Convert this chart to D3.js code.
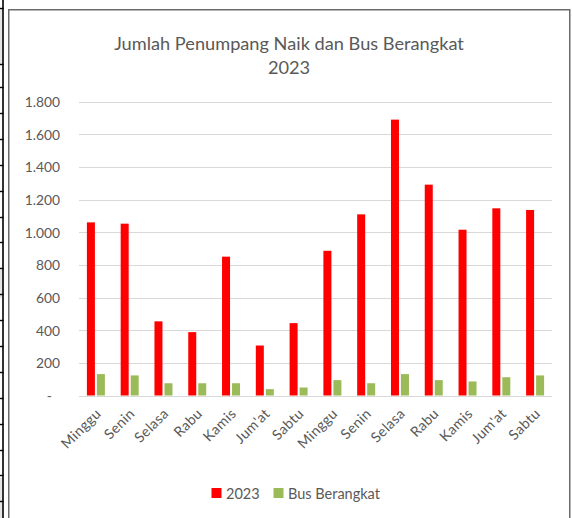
<!DOCTYPE html>
<html lang="id">
<head>
<meta charset="UTF-8">
<title>Jumlah Penumpang Naik dan Bus Berangkat 2023</title>
<script src="https://cdnjs.cloudflare.com/ajax/libs/d3/7.8.5/d3.min.js"></script>
<style>
    body { margin: 0; background: #fff; }
    svg { display: block; font-family: Lato, "Open Sans", sans-serif; }
    .grid line { stroke: #d9d9d9; stroke-width: 1; }
    .lbl { fill: #595959; }
</style>
</head>
<body>
<div id="chart"></div>
<script>
    // data
    const days = ["Minggu", "Senin", "Selasa", "Rabu", "Kamis", "Jum'at", "Sabtu",
                  "Minggu", "Senin", "Selasa", "Rabu", "Kamis", "Jum'at", "Sabtu"];
    const penumpang = [1060, 1052, 454, 388, 850, 306, 443, 886, 1109, 1689, 1291, 1015, 1146, 1136];
    const busBerangkat = [131, 123, 75, 75, 75, 39, 49, 94, 75, 131, 94, 86, 112, 123];
    const seriesNames = ["2023", "Bus Berangkat"];
    const seriesColors = ["#ff0000", "#9bbb59"];
    const yTicks = [0, 200, 400, 600, 800, 1000, 1200, 1400, 1600, 1800];

    const width = 572, height = 518;
    const plot = { left: 79, right: 552, top: 101.5, bottom: 395.5 };

    const svg = d3.select("#chart").append("svg")
        .attr("width", width)
        .attr("height", height);

    // sheet borders on the left edge
    const deco = svg.append("g");
    [[0, 8, 64], [0, 270, 298], [0, 478, 518]].forEach(([x, y0, y1]) => {
        deco.append("rect").attr("x", x).attr("y", y0).attr("width", 2.5)
            .attr("height", y1 - y0).attr("fill", "#e6e6e6");
    });
    deco.append("line").attr("x1", 3).attr("x2", 3).attr("y1", 0).attr("y2", height)
        .attr("stroke", "#000").attr("stroke-width", 1.6);
    const rowLines = [8, 64];
    for (let y = 87; y < height; y += 25.9) rowLines.push(Math.round(y));
    deco.selectAll(".row").data(rowLines).enter().append("line")
        .attr("x1", 0).attr("x2", 3.5)
        .attr("y1", d => d + 0.5).attr("y2", d => d + 0.5)
        .attr("stroke", "#000").attr("stroke-width", 1.4);

    // chart frame
    svg.append("path")
        .attr("d", `M8.75,${height + 2}V9.75H569.75V${height + 2}`)
        .attr("fill", "none")
        .attr("stroke", "#6b6b6b")
        .attr("stroke-width", 1.5);

    // title
    const title = svg.append("text")
        .attr("class", "lbl")
        .attr("text-anchor", "middle")
        .attr("font-size", 18.2);
    title.append("tspan").attr("x", 289).attr("y", 50).text("Jumlah Penumpang Naik dan Bus Berangkat");
    title.append("tspan").attr("x", 289).attr("y", 74).text("2023");

    const x = d3.scaleBand()
        .domain(d3.range(days.length))
        .range([plot.left, plot.right])
        .paddingInner(0)
        .paddingOuter(0);

    const y = d3.scaleLinear()
        .domain([0, 1800])
        .range([plot.bottom, plot.top]);

    const idLocale = d3.formatLocale({ decimal: ",", thousands: ".", grouping: [3], currency: ["Rp", ""] });
    const fmt = idLocale.format(",d");

    // gridlines
    svg.append("g")
        .attr("class", "grid")
        .selectAll("line")
        .data(yTicks)
        .enter().append("line")
        .attr("x1", plot.left)
        .attr("x2", plot.right)
        .attr("y1", d => Math.round(y(d)) + 0.5)
        .attr("y2", d => Math.round(y(d)) + 0.5);

    // y axis labels
    const yAxis = d3.axisLeft(y)
        .tickValues(yTicks)
        .tickSize(0)
        .tickPadding(0)
        .tickFormat(d => d === 0 ? "-" : fmt(d));
    const yg = svg.append("g")
        .attr("transform", "translate(60,0)")
        .call(yAxis)
        .attr("font-family", null)
        .attr("font-size", null);
    yg.select(".domain").remove();
    yg.selectAll("text")
        .attr("class", "lbl")
        .attr("font-size", 13.8)
        .attr("dy", "0.36em");
    yg.selectAll(".tick").filter(d => d === 0).select("text").attr("dx", "-8");

    // bars
    const barW = 8, barGap = 2;
    const groupOffset = (x.bandwidth() - (2 * barW + barGap)) / 2;
    const series = [penumpang, busBerangkat];

    series.forEach((vals, s) => {
        svg.append("g")
            .selectAll("rect")
            .data(vals)
            .enter().append("rect")
            .attr("x", (d, i) => x(i) + groupOffset + s * (barW + barGap))
            .attr("y", d => y(d))
            .attr("width", barW)
            .attr("height", d => y(0) - y(d))
            .attr("fill", seriesColors[s]);
    });

    // x labels
    const xAxis = d3.axisBottom(x)
        .tickSize(0)
        .tickFormat(i => days[i]);
    const xg = svg.append("g")
        .attr("transform", `translate(0,${plot.bottom})`)
        .call(xAxis)
        .attr("font-family", null)
        .attr("font-size", null);
    xg.select(".domain").remove();
    xg.selectAll("text")
        .attr("class", "lbl")
        .attr("font-size", 14.2)
        .attr("letter-spacing", 0.4)
        .attr("text-anchor", "end")
        .attr("dy", null)
        .attr("y", 0)
        .attr("transform", "translate(6,19) rotate(-45)");

    // legend
    const legendItems = [
        { name: seriesNames[0], color: seriesColors[0], x: 211.5 },
        { name: seriesNames[1], color: seriesColors[1], x: 273.5 }
    ];
    const lg = svg.append("g").selectAll("g")
        .data(legendItems)
        .enter().append("g")
        .attr("transform", d => `translate(${d.x},488)`);
    lg.append("rect")
        .attr("width", 10)
        .attr("height", 10)
        .attr("fill", d => d.color);
    lg.append("text")
        .attr("class", "lbl")
        .attr("x", 14.5)
        .attr("y", 10.5)
        .attr("font-size", 14.5)
        .text(d => d.name);
</script>
</body>
</html>
